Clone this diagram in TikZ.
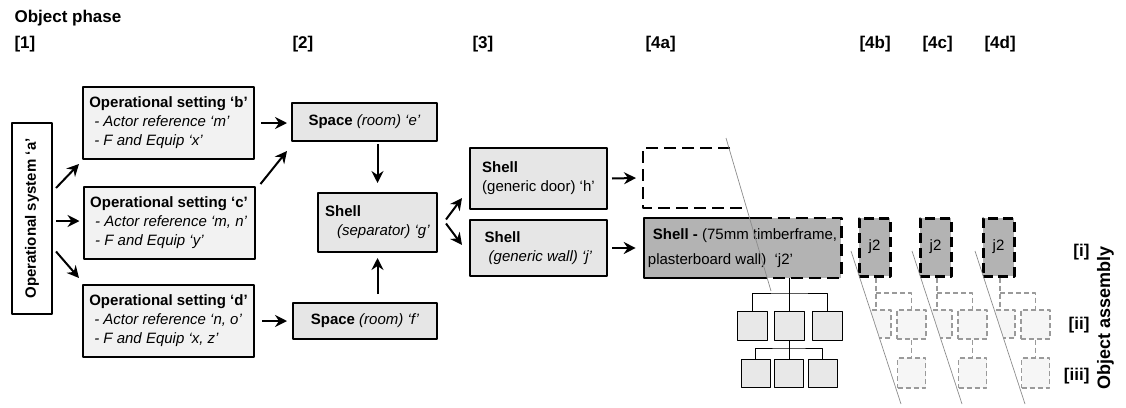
\documentclass[tikz,border=0pt]{standalone}
\usepackage{fontspec}
\setmainfont{Liberation Sans}
\usepackage{graphicx}
\usetikzlibrary{arrows.meta,calc}
\definecolor{setfill}{HTML}{F2F2F2}
\definecolor{stepfill}{HTML}{E6E6E6}
\definecolor{jfill}{HTML}{B3B3B3}
\definecolor{treefill}{HTML}{E8E8E8}
\definecolor{fadefill}{HTML}{F6F6F6}
\definecolor{fadeline}{HTML}{9A9A9A}
\definecolor{cutline}{HTML}{8C8C8C}
\begin{document}
\begin{tikzpicture}[x=1pt, y=-1pt, font=\fontsize{15}{19}\selectfont, line join=round,
 >={Stealth[length=12pt,width=12pt,inset=4pt]},
 box/.style={draw, line width=2pt, align=left, inner sep=4pt},
 opset/.style={box, fill=setfill, minimum width=171pt, minimum height=72pt},
 stepbox/.style={box, fill=stepfill},
 arr/.style={->, line width=2pt},
 tree/.style={line width=0.9pt},
 treebox/.style={draw, tree, fill=treefill, inner sep=0pt},
 faded/.style={draw=fadeline, line width=1.4pt, dash pattern=on 5pt off 3pt},
 fadebox/.style={faded, fill=fadefill, inner sep=0pt},
 jsmall/.style={draw, fill=jfill, line width=3pt, dash pattern=on 10pt off 5pt, minimum width=31pt, minimum height=58pt, inner sep=0pt},
 jdash/.style={line width=2.4pt, dash pattern=on 12pt off 6pt},
 cut/.style={draw=cutline, line width=0.7pt},
 head/.style={font=\fontsize{17}{19}\selectfont\bfseries, anchor=base west}]
 \useasboundingbox (0,0) rectangle (1126,407);
 \node[head] (ph) at (11,22.5) {Object phase};
 \foreach \x/\s in {11/1,289/2,469/3,642/4a,856/4b,919/4c,981/4d}
 \node[head] (c\s) at (\x,48.5) {[\s]};
 % column 1
 \node[box, fill=white, minimum width=40pt, minimum height=191pt] (a) at (32,218.5) {\rotatebox{90}{\bfseries Operational system ‘a’}};
 \node[opset] (b) at (168.5,123) {\textbf{Operational setting ‘b’}\\\hspace*{5pt}\textit{- Actor reference ‘m’}\\\hspace*{5pt}\textit{- F and Equip ‘x’}};
 \node[opset] (c) at (169,223) {\textbf{Operational setting ‘c’}\\\hspace*{5pt}\textit{- Actor reference ‘m, n’}\\\hspace*{5pt}\textit{- F and Equip ‘y’}};
 \node[opset] (d) at (168.5,321) {\textbf{Operational setting ‘d’}\\\hspace*{5pt}\textit{- Actor reference ‘n, o’}\\\hspace*{5pt}\textit{- F and Equip ‘x, z’}};
 % columns 2 and 3
 \node[stepbox, minimum width=145pt, minimum height=38pt] (e) at (364.5,122) {\textbf{Space} \textit{(room) ‘e’}};
 \node[stepbox, minimum width=144pt, minimum height=36pt] (f) at (365,321) {\textbf{Space} \textit{(room) ‘f’}};
 \node[stepbox, minimum width=119pt, minimum height=59pt] (g) at (377.5,222.5) {\textbf{Shell}\\\hspace*{12pt}\textit{(separator) ‘g’}};
 \node[stepbox, minimum width=137pt, minimum height=61pt] (h) at (538.5,178.5) {\textbf{Shell}\\(generic door) ‘h’};
 \node[stepbox, minimum width=137pt, minimum height=56pt] (j) at (538.5,248) {\textbf{Shell}\\\hspace*{4pt}\textit{(generic wall) ‘j’}};
 % column 4a
 \coordinate (door) at (643,178);
 \draw[jdash, line width=2.6pt] (730,148) -- (643,148) -- (643,208) -- (743,208);
 \node[fill=jfill, minimum width=197pt, minimum height=60pt, align=left, inner sep=4pt] (jtwo) at (742.5,248) {\hspace*{5pt}\textbf{Shell -} (75mm timberframe,\\[6pt]plasterboard wall)\ \ ‘j2’};
 \draw[line width=2pt] ($(jtwo.north west)+(116,0)$) -- (jtwo.north west) -- (jtwo.south west) -- ($(jtwo.south west)+(113,0)$);
 \draw[jdash] ($(jtwo.north west)+(116,0)$) -- (jtwo.north east) -- (jtwo.south east) -- ($(jtwo.south west)+(113,0)$);
 \foreach \n/\x in {1/752,2/789,3/827}
 \node[treebox, minimum width=30pt, minimum height=29pt] (t\n) at (\x,325.5) {};
 \foreach \n/\x in {1/755.5,2/789,3/822.5}
 \node[treebox, minimum width=29pt, minimum height=28pt] (u\n) at (\x,373) {};
 \coordinate (tj) at (789,293);
 \coordinate (uj) at (789,348);
 \draw[tree] (jtwo.south -| tj) -- (tj) -- (t2.north);
 \draw[tree] (t1.north) |- (tj) -| (t3.north);
 \draw[tree] (t2.south) -- (uj) -- (u2.north);
 \draw[tree] (u1.north) |- (uj) -| (u3.north);
 \draw[cut] (726,138) -- (771,291);
 % columns 4b-4d
 \foreach \L/\n in {859/b,920/c,983/d}{
 \node[jsmall] (j2\n) at (\L+15.5,247) {j2};
 \begin{scope}
 \clip (\L-8,251) -- (\L+42,404) -- (\L+80,404) -- (\L+80,251) -- cycle;
 \node[fadebox, minimum width=30pt, minimum height=28pt] (m\n) at (\L+17,324) {};
 \node[fadebox, minimum width=29pt, minimum height=29pt] (r\n) at (\L+52.5,324.5) {};
 \node[fadebox, minimum width=28pt, minimum height=30pt] (s\n) at (\L+52.5,373) {};
 \coordinate (k\n) at (\L+17,293);
 \draw[faded] (j2\n.south -| k\n) -- (m\n.north);
 \draw[faded] (k\n) -| (r\n.north);
 \draw[faded] (r\n.south) -- (s\n.north);
 \end{scope}
 \draw[cut] (\L-8,251) -- (\L+42,404);
 }
 % arrows
 \draw[arr] ($(a.east)+(3,-30.5)$) -- ($(b.south west)+(-3,4)$);
 \draw[arr] ($(a.east|-c.west)+(3,-2)$) -- ($(c.west)+(-3,-2)$);
 \draw[arr] ($(a.east)+(3,33)$) -- ($(d.north west)+(-3,-6)$);
 \draw[arr] ($(b.east)+(6,0)$) -- ($(e.west|-b.east)+(-4,0)$);
 \draw[arr] ($(c.north east)+(5,-2)$) -- ($(e.south west)+(-4,9)$);
 \draw[arr] ($(d.east)+(7,0)$) -- ($(f.west|-d.east)+(-5,0)$);
 \draw[arr] ($(g.north|-e.south)+(0,2)$) -- ($(g.north)+(0,-9)$);
 \draw[arr] ($(g.south|-f.north)+(0,-8)$) -- ($(g.south)+(0,5)$);
 \draw[arr] ($(g.east)+(8,-3)$) -- ($(h.south west)+(-7,-12)$);
 \draw[arr] ($(g.east)+(8,1)$) -- ($(j.west)+(-7,-3)$);
 \draw[arr] ($(h.east)+(4,0)$) -- ($(door)+(-7,0)$);
 \draw[arr] ($(j.east)+(4,0)$) -- ($(jtwo.west|-j.east)+(-8,0)$);
 % object assembly
 \foreach \y/\s in {256.7/i,329.7/ii,380/iii}
 \node[head, anchor=base east] (l\s) at (1093,\y) {[\s]};
 \node[font=\fontsize{18}{20}\selectfont\bfseries, rotate=90, anchor=base] (oa) at (1110,317.5) {Object assembly};
\end{tikzpicture}
\end{document}
